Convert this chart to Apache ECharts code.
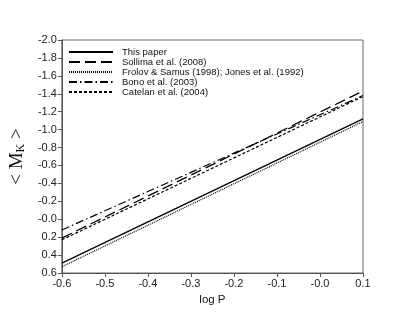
<!DOCTYPE html>
<html><head><meta charset="utf-8">
<script src="https://cdn.jsdelivr.net/npm/echarts@6/dist/echarts.min.js"></script>
<style>html,body{margin:0;padding:0;background:#fff}#c{width:415px;height:314px}</style>
</head><body><div id="c"></div>
<script>
const logP = [-0.6, 0.1];
const seriesNames = ["This paper", "Sollima et al. (2008)", "Frolov & Samus (1998); Jones et al. (1992)", "Bono et al. (2003)", "Catelan et al. (2004)"];
const thisPaper = [0.49, -1.12];
const sollima = [0.21, -1.43];
const frolov = [0.53, -1.09];
const bono = [0.12, -1.38];
const catelan = [0.23, -1.37];
const xTicks = [-0.6, -0.5, -0.4, -0.3, -0.2, -0.1, 0.0, 0.1];

const values = [thisPaper, sollima, frolov, bono, catelan];
const dashes = ['solid', [11, 5], [1, 1], [8, 3, 1.5, 3], [3, 2]];
const widths = [1.3, 1.3, 1.2, 1.2, 1.2];

function fmt(v) {
  const s = (Math.round(v * 10) / 10).toFixed(1);
  return (s === '0.0' || s === '-0.0') ? '-0.0' : s;
}

const chart = echarts.init(document.getElementById('c'), null, {renderer: 'canvas'});
chart.setOption({
  animation: false,
  backgroundColor: '#fff',
  grid: {left: 52, right: 52, top: 40, bottom: 41, show: true, borderColor: '#666', borderWidth: 1},
  legend: {
    orient: 'vertical', left: 63, top: 42,
    itemWidth: 44, itemHeight: 7.7, itemGap: 0,
    itemStyle: {opacity: 0},
    textStyle: {fontFamily: 'Liberation Sans, Arial', fontSize: 9.5, color: '#111', lineHeight: 8, padding: [0, 0, 0, 4]},
    data: seriesNames
  },
  xAxis: {
    type: 'value', min: -0.6, max: 0.1, interval: 0.1,
    name: 'log P', nameLocation: 'middle', nameGap: 20,
    nameTextStyle: {fontFamily: 'Liberation Sans, Arial', fontSize: 11.5, color: '#111'},
    axisLine: {onZero: false, lineStyle: {color: '#555', width: 1}},
    axisTick: {show: true, length: 4, lineStyle: {color: '#555'}},
    axisLabel: {formatter: fmt, fontFamily: 'Liberation Sans, Arial', fontSize: 11, color: '#222', margin: 5},
    splitLine: {show: false}
  },
  yAxis: {
    type: 'value', inverse: true, min: -2.0, max: 0.6, interval: 0.2,
    name: '{a|< M}{b|K}{a| >}', nameLocation: 'middle', nameGap: 30, nameRotate: 90,
    nameTextStyle: {rich: {
      a: {fontFamily: 'Liberation Serif, Times New Roman', fontSize: 19, color: '#111'},
      b: {fontFamily: 'Liberation Serif, Times New Roman', fontSize: 12, color: '#111', verticalAlign: 'bottom', padding: [6, 0, 0, 0]}
    }},
    axisLine: {show: true, onZero: false, lineStyle: {color: '#555', width: 1}},
    axisTick: {show: true, length: 4, lineStyle: {color: '#555'}},
    axisLabel: {formatter: fmt, fontFamily: 'Liberation Sans, Arial', fontSize: 11, color: '#222', margin: 5},
    splitLine: {show: false}
  },
  series: seriesNames.map((n, i) => ({
    name: n, type: 'line', symbol: 'none',
    data: logP.map((x, j) => [x, values[i][j]]),
    lineStyle: {color: '#000', width: widths[i], type: dashes[i]},
    itemStyle: {color: '#000'}
  }))
});
</script></body></html>
